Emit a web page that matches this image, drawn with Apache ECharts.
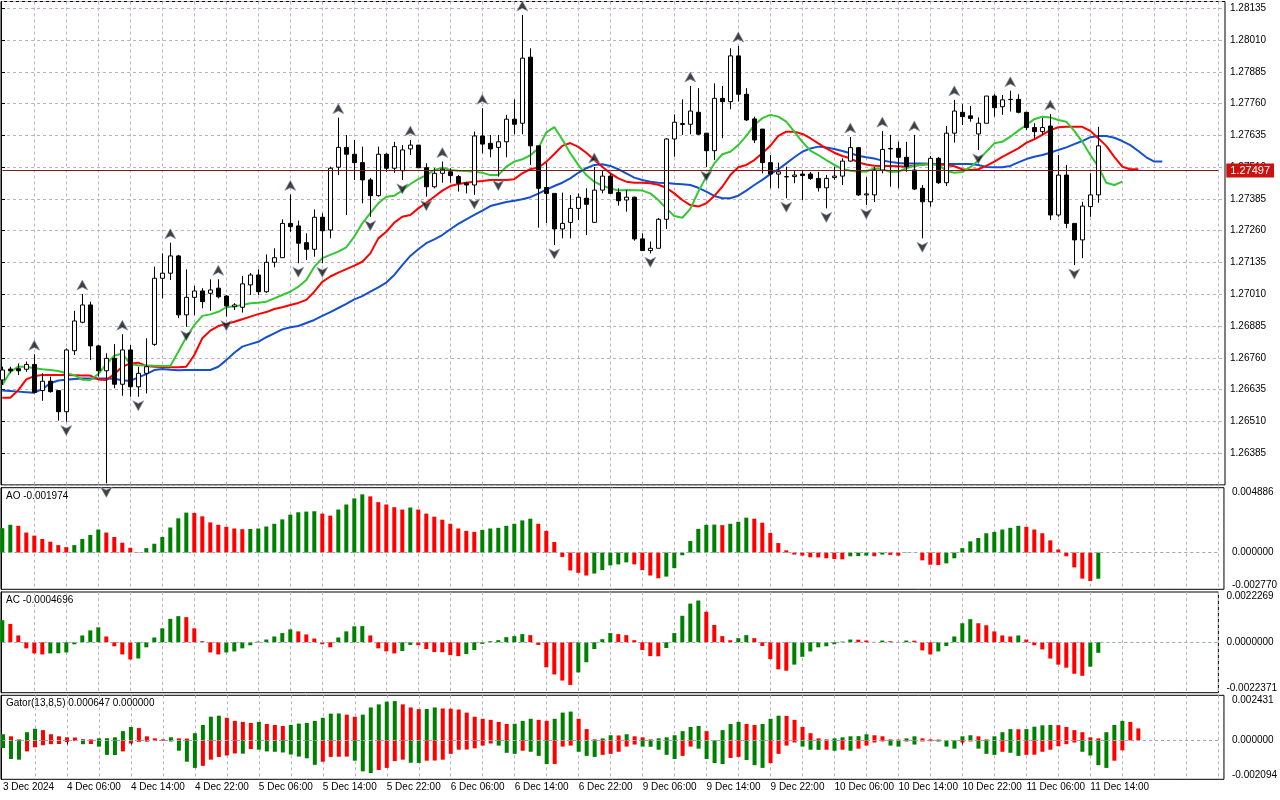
<!DOCTYPE html>
<html>
<head>
<meta charset="utf-8">
<title>GBPUSD H1</title>
<script src="https://cdn.jsdelivr.net/npm/echarts@6/dist/echarts.min.js"></script>
<style>
  html, body { margin: 0; padding: 0; background: #fff; }
  #chart { width: 1280px; height: 800px; }
</style>
</head>
<body>
<div id="chart"></div>
<script>
// hourly sessions shown on the chart (day, first hour, last hour), incl. empty space on the right
var sessions = [
	['3 Dec', 22, 23], ['4 Dec', 0, 23], ['5 Dec', 0, 23], ['6 Dec', 0, 23],
	['9 Dec', 0, 23], ['10 Dec', 0, 23], ['11 Dec', 0, 23], ['12 Dec', 0, 6]
];
// time labels, one every 8 bars
var timeLabels = ['3 Dec 2024', '4 Dec 06:00', '4 Dec 14:00', '4 Dec 22:00', '5 Dec 06:00', '5 Dec 14:00',
	'5 Dec 22:00', '6 Dec 06:00', '6 Dec 14:00', '6 Dec 22:00', '9 Dec 06:00', '9 Dec 14:00', '9 Dec 22:00',
	'10 Dec 06:00', '10 Dec 14:00', '10 Dec 22:00', '11 Dec 06:00', '11 Dec 14:00'];

var opens = [1.26673, 1.26716, 1.26717, 1.26715, 1.26734, 1.26631, 1.26668, 1.26631, 1.26548, 1.26788,
	1.26900, 1.26968, 1.26807, 1.26709, 1.26758, 1.26656, 1.26791, 1.26646, 1.26699, 1.26813,
	1.27073, 1.27093, 1.27161, 1.26929, 1.26998, 1.27023, 1.27014, 1.27034, 1.27003, 1.26961,
	1.26959, 1.27047, 1.27086, 1.27020, 1.27136, 1.27154, 1.27289, 1.27279, 1.27213, 1.27187,
	1.27313, 1.27263, 1.27510, 1.27588, 1.27561, 1.27528, 1.27460, 1.27398, 1.27561, 1.27506,
	1.27496, 1.27582, 1.27597, 1.27508, 1.27433, 1.27486, 1.27492, 1.27473, 1.27448, 1.27440,
	1.27633, 1.27604, 1.27588, 1.27610, 1.27699, 1.27683, 1.27943, 1.27594, 1.27430, 1.27407,
	1.27267, 1.27293, 1.27348, 1.27388, 1.27293, 1.27420, 1.27475, 1.27410, 1.27381, 1.27392,
	1.27228, 1.27182, 1.27191, 1.27305, 1.27621, 1.27678, 1.27679, 1.27726, 1.27644, 1.27575,
	1.27781, 1.27768, 1.27948, 1.27797, 1.27700, 1.27660, 1.27528, 1.27483, 1.27472, 1.27473,
	1.27483, 1.27483, 1.27466, 1.27429, 1.27469, 1.27475, 1.27534, 1.27587, 1.27401, 1.27401,
	1.27499, 1.27582, 1.27584, 1.27549, 1.27499, 1.27427, 1.27374, 1.27545, 1.27449, 1.27644,
	1.27726, 1.27712, 1.27641, 1.27683, 1.27790, 1.27748, 1.27776, 1.27777, 1.27726, 1.27666,
	1.27650, 1.27672, 1.27322, 1.27479, 1.27289, 1.27224, 1.27355, 1.27401];
var highs = [1.26725, 1.26725, 1.26738, 1.26745, 1.26774, 1.26699, 1.26686, 1.26633, 1.26797, 1.26945,
	1.27011, 1.26981, 1.26810, 1.26778, 1.26814, 1.26853, 1.26810, 1.26725, 1.26837, 1.27119,
	1.27171, 1.27213, 1.27165, 1.27108, 1.27043, 1.27034, 1.27069, 1.27069, 1.27007, 1.26975,
	1.27082, 1.27094, 1.27108, 1.27167, 1.27191, 1.27305, 1.27403, 1.27300, 1.27250, 1.27344,
	1.27329, 1.27512, 1.27705, 1.27637, 1.27617, 1.27591, 1.27468, 1.27591, 1.27565, 1.27610,
	1.27597, 1.27617, 1.27597, 1.27525, 1.27506, 1.27532, 1.27506, 1.27479, 1.27453, 1.27650,
	1.27742, 1.27637, 1.27637, 1.27716, 1.27777, 1.28109, 1.27978, 1.27594, 1.27527, 1.27407,
	1.27410, 1.27401, 1.27407, 1.27427, 1.27511, 1.27495, 1.27486, 1.27427, 1.27420, 1.27394,
	1.27250, 1.27217, 1.27310, 1.27624, 1.27718, 1.27777, 1.27830, 1.27821, 1.27644, 1.27840,
	1.27830, 1.27978, 1.27987, 1.27821, 1.27709, 1.27660, 1.27558, 1.27528, 1.27512, 1.27496,
	1.27499, 1.27491, 1.27492, 1.27479, 1.27512, 1.27545, 1.27629, 1.27590, 1.27471, 1.27511,
	1.27652, 1.27637, 1.27610, 1.27610, 1.27637, 1.27440, 1.27554, 1.27550, 1.27672, 1.27775,
	1.27758, 1.27751, 1.27706, 1.27790, 1.27797, 1.27794, 1.27811, 1.27797, 1.27726, 1.27683,
	1.27704, 1.27719, 1.27558, 1.27519, 1.27289, 1.27374, 1.27486, 1.27669];
var lows = [1.26653, 1.26699, 1.26692, 1.26705, 1.26620, 1.26591, 1.26623, 1.26513, 1.26509, 1.26771,
	1.26896, 1.26751, 1.26686, 1.26266, 1.26640, 1.26611, 1.26607, 1.26607, 1.26620, 1.26807,
	1.26994, 1.27066, 1.26916, 1.26882, 1.26928, 1.26955, 1.26945, 1.26994, 1.26922, 1.26948,
	1.26938, 1.27007, 1.27007, 1.27016, 1.27116, 1.27154, 1.27256, 1.27132, 1.27145, 1.27158,
	1.27132, 1.27230, 1.27479, 1.27322, 1.27460, 1.27368, 1.27315, 1.27394, 1.27492, 1.27488,
	1.27460, 1.27558, 1.27506, 1.27394, 1.27427, 1.27449, 1.27449, 1.27414, 1.27407, 1.27401,
	1.27565, 1.27549, 1.27473, 1.27549, 1.27640, 1.27640, 1.27519, 1.27272, 1.27290, 1.27204,
	1.27230, 1.27230, 1.27302, 1.27243, 1.27293, 1.27407, 1.27405, 1.27359, 1.27335, 1.27221,
	1.27182, 1.27171, 1.27191, 1.27267, 1.27551, 1.27637, 1.27640, 1.27637, 1.27510, 1.27538,
	1.27624, 1.27738, 1.27768, 1.27692, 1.27605, 1.27486, 1.27427, 1.27427, 1.27388, 1.27447,
	1.27381, 1.27460, 1.27414, 1.27348, 1.27460, 1.27440, 1.27532, 1.27397, 1.27361, 1.27373,
	1.27486, 1.27433, 1.27427, 1.27492, 1.27420, 1.27230, 1.27355, 1.27444, 1.27436, 1.27607,
	1.27676, 1.27689, 1.27578, 1.27683, 1.27709, 1.27716, 1.27729, 1.27722, 1.27656, 1.27624,
	1.27637, 1.27302, 1.27315, 1.27270, 1.27125, 1.27152, 1.27315, 1.27370];
var closes = [1.26712, 1.26709, 1.26709, 1.26734, 1.26624, 1.26668, 1.26627, 1.26548, 1.26791, 1.26905,
	1.26968, 1.26807, 1.26709, 1.26758, 1.26656, 1.26791, 1.26646, 1.26699, 1.26725, 1.27073,
	1.27093, 1.27161, 1.26929, 1.26998, 1.27023, 1.26981, 1.27027, 1.27000, 1.26964, 1.26968,
	1.27051, 1.27086, 1.27020, 1.27136, 1.27154, 1.27289, 1.27276, 1.27211, 1.27187, 1.27313,
	1.27260, 1.27506, 1.27588, 1.27561, 1.27528, 1.27460, 1.27398, 1.27561, 1.27506, 1.27591,
	1.27578, 1.27597, 1.27508, 1.27433, 1.27486, 1.27502, 1.27477, 1.27447, 1.27440, 1.27633,
	1.27601, 1.27582, 1.27610, 1.27699, 1.27679, 1.27939, 1.27594, 1.27427, 1.27407, 1.27267,
	1.27289, 1.27348, 1.27392, 1.27364, 1.27420, 1.27475, 1.27407, 1.27378, 1.27392, 1.27228,
	1.27182, 1.27191, 1.27305, 1.27621, 1.27687, 1.27682, 1.27731, 1.27640, 1.27575, 1.27781,
	1.27768, 1.27948, 1.27797, 1.27696, 1.27617, 1.27528, 1.27483, 1.27492, 1.27473, 1.27479,
	1.27477, 1.27466, 1.27429, 1.27466, 1.27475, 1.27534, 1.27587, 1.27401, 1.27405, 1.27499,
	1.27580, 1.27584, 1.27549, 1.27512, 1.27424, 1.27374, 1.27545, 1.27449, 1.27644, 1.27731,
	1.27709, 1.27702, 1.27683, 1.27790, 1.27744, 1.27775, 1.27777, 1.27726, 1.27666, 1.27650,
	1.27666, 1.27322, 1.27479, 1.27289, 1.27224, 1.27357, 1.27401, 1.27594];
var priceNow = 1.27497;

// Alligator (already shifted forward as drawn)
var jaw = [1.26631, 1.26629, 1.26627, 1.26625, 1.26623, 1.26637, 1.26660, 1.26671, 1.26674, 1.26677,
	1.26679, 1.26679, 1.26679, 1.26679, 1.26678, 1.26672, 1.26669, 1.26683, 1.26696, 1.26712,
	1.26716, 1.26713, 1.26711, 1.26712, 1.26712, 1.26712, 1.26712, 1.26725, 1.26751, 1.26780,
	1.26804, 1.26814, 1.26823, 1.26841, 1.26856, 1.26872, 1.26880, 1.26885, 1.26897, 1.26909,
	1.26925, 1.26940, 1.26956, 1.26972, 1.26990, 1.27003, 1.27020, 1.27037, 1.27056, 1.27086,
	1.27125, 1.27161, 1.27187, 1.27211, 1.27226, 1.27243, 1.27266, 1.27287, 1.27305, 1.27322,
	1.27339, 1.27357, 1.27365, 1.27373, 1.27378, 1.27384, 1.27392, 1.27406, 1.27422, 1.27436,
	1.27449, 1.27466, 1.27488, 1.27506, 1.27519, 1.27522, 1.27515, 1.27502, 1.27486, 1.27469,
	1.27460, 1.27453, 1.27449, 1.27448, 1.27445, 1.27443, 1.27440, 1.27429, 1.27414, 1.27397,
	1.27388, 1.27388, 1.27398, 1.27418, 1.27440, 1.27460, 1.27483, 1.27502, 1.27525, 1.27549,
	1.27571, 1.27584, 1.27591, 1.27588, 1.27582, 1.27574, 1.27565, 1.27555, 1.27549, 1.27544,
	1.27536, 1.27531, 1.27527, 1.27525, 1.27525, 1.27525, 1.27524, 1.27523, 1.27523, 1.27523,
	1.27523, 1.27523, 1.27519, 1.27511, 1.27510, 1.27510, 1.27515, 1.27529, 1.27542, 1.27551,
	1.27558, 1.27567, 1.27578, 1.27588, 1.27601, 1.27613, 1.27628, 1.27633, 1.27633, 1.27626,
	1.27613, 1.27597, 1.27574, 1.27549, 1.27532, 1.27532];
var teeth = [1.26603, 1.26603, 1.26633, 1.26675, 1.26688, 1.26692, 1.26692, 1.26692, 1.26692, 1.26691,
	1.26690, 1.26690, 1.26675, 1.26673, 1.26696, 1.26725, 1.26738, 1.26741, 1.26728, 1.26725,
	1.26724, 1.26723, 1.26723, 1.26725, 1.26771, 1.26837, 1.26867, 1.26885, 1.26893, 1.26902,
	1.26912, 1.26922, 1.26932, 1.26940, 1.26952, 1.26959, 1.26968, 1.26976, 1.26988, 1.27020,
	1.27059, 1.27080, 1.27095, 1.27109, 1.27123, 1.27138, 1.27171, 1.27230, 1.27256, 1.27292,
	1.27315, 1.27322, 1.27348, 1.27370, 1.27394, 1.27418, 1.27436, 1.27444, 1.27449, 1.27453,
	1.27456, 1.27460, 1.27460, 1.27460, 1.27463, 1.27486, 1.27502, 1.27509, 1.27531, 1.27562,
	1.27594, 1.27605, 1.27590, 1.27567, 1.27538, 1.27512, 1.27486, 1.27466, 1.27453, 1.27449,
	1.27449, 1.27447, 1.27441, 1.27429, 1.27407, 1.27381, 1.27361, 1.27355, 1.27368, 1.27397,
	1.27433, 1.27479, 1.27510, 1.27519, 1.27538, 1.27565, 1.27594, 1.27633, 1.27650, 1.27650,
	1.27641, 1.27624, 1.27604, 1.27584, 1.27567, 1.27554, 1.27545, 1.27529, 1.27521, 1.27516,
	1.27515, 1.27515, 1.27514, 1.27512, 1.27516, 1.27520, 1.27523, 1.27521, 1.27519, 1.27514,
	1.27502, 1.27499, 1.27502, 1.27515, 1.27532, 1.27551, 1.27567, 1.27584, 1.27606, 1.27620,
	1.27637, 1.27656, 1.27667, 1.27669, 1.27669, 1.27669, 1.27653, 1.27624, 1.27594, 1.27551,
	1.27512, 1.27502, 1.27502];
var lips = [1.26653, 1.26705, 1.26725, 1.26725, 1.26719, 1.26715, 1.26712, 1.26708, 1.26699, 1.26692,
	1.26674, 1.26673, 1.26696, 1.26735, 1.26768, 1.26777, 1.26735, 1.26731, 1.26730, 1.26729,
	1.26728, 1.26728, 1.26784, 1.26841, 1.26889, 1.26925, 1.26931, 1.26941, 1.26959, 1.26963,
	1.26968, 1.26975, 1.26977, 1.26981, 1.26994, 1.27007, 1.27020, 1.27040, 1.27066, 1.27118,
	1.27152, 1.27165, 1.27178, 1.27195, 1.27237, 1.27289, 1.27329, 1.27368, 1.27394, 1.27398,
	1.27418, 1.27444, 1.27463, 1.27479, 1.27499, 1.27508, 1.27499, 1.27496, 1.27495, 1.27492,
	1.27488, 1.27479, 1.27479, 1.27512, 1.27532, 1.27541, 1.27557, 1.27584, 1.27647, 1.27668,
	1.27619, 1.27565, 1.27519, 1.27479, 1.27453, 1.27437, 1.27427, 1.27418, 1.27420, 1.27419,
	1.27418, 1.27407, 1.27381, 1.27348, 1.27318, 1.27311, 1.27346, 1.27414, 1.27473, 1.27525,
	1.27561, 1.27571, 1.27597, 1.27633, 1.27676, 1.27703, 1.27716, 1.27709, 1.27689, 1.27650,
	1.27610, 1.27575, 1.27558, 1.27538, 1.27519, 1.27503, 1.27496, 1.27492, 1.27493, 1.27506,
	1.27502, 1.27492, 1.27492, 1.27506, 1.27516, 1.27521, 1.27523, 1.27519, 1.27496, 1.27488,
	1.27491, 1.27510, 1.27536, 1.27571, 1.27604, 1.27610, 1.27630, 1.27654, 1.27676, 1.27699,
	1.27709, 1.27706, 1.27696, 1.27689, 1.27653, 1.27610, 1.27558, 1.27512, 1.27449, 1.27440,
	1.27453];

// bar indexes carrying a fractal
var upFractals = [4, 10, 15, 21, 27, 36, 42, 51, 55, 60, 65, 74, 86, 92, 106, 110, 114, 119, 126, 131];
var downFractals = [8, 13, 17, 23, 28, 37, 40, 46, 50, 53, 59, 62, 69, 81, 88, 98, 103, 108, 115, 122, 134];

var ao = [0.001836, 0.002091, 0.002015, 0.001505, 0.001275, 0.001020, 0.000816, 0.000561, 0.000408, 0.000561,
	0.001020, 0.001326, 0.001734, 0.001505, 0.001173, 0.000740, 0.000357, 0.000026, 0.000332, 0.000663,
	0.001173, 0.001887, 0.002576, 0.003009, 0.002984, 0.002729, 0.002270, 0.002091, 0.001938, 0.001811,
	0.001760, 0.001772, 0.001811, 0.001964, 0.002168, 0.002499, 0.002856, 0.003035, 0.003086, 0.003111,
	0.002933, 0.002780, 0.003239, 0.003621, 0.004080, 0.004386, 0.004233, 0.003800, 0.003621, 0.003417,
	0.003239, 0.003392, 0.003239, 0.002933, 0.002703, 0.002474, 0.002168, 0.001811, 0.001632, 0.001556,
	0.001709, 0.001811, 0.001862, 0.002015, 0.002168, 0.002423, 0.002550, 0.002168, 0.001632, 0.000791,
	-0.000332, -0.001352, -0.001530, -0.001734, -0.001581, -0.001326, -0.000969, -0.000893, -0.000740, -0.000893,
	-0.001326, -0.001734, -0.001938, -0.001811, -0.001173, -0.000204, 0.000867, 0.001785, 0.002091, 0.002104,
	0.002066, 0.002168, 0.002321, 0.002627, 0.002550, 0.002244, 0.001479, 0.000714, 0.000166, -0.000153,
	-0.000230, -0.000357, -0.000370, -0.000434, -0.000485, -0.000510, -0.000281, -0.000268, -0.000230, -0.000281,
	-0.000153, -0.000179, -0.000230, -0.000026, -0.000013, -0.000587, -0.000918, -0.000944, -0.000816, -0.000434,
	0.000332, 0.000842, 0.001097, 0.001454, 0.001556, 0.001734, 0.001862, 0.002015, 0.001938, 0.001734,
	0.001454, 0.000918, 0.000230, -0.000281, -0.001122, -0.001964, -0.002142, -0.001974];
var ac = [0.000977, 0.000812, 0.000301, -0.000271, -0.000496, -0.000541, -0.000496, -0.000489, -0.000451, -0.000090,
	0.000301, 0.000526, 0.000661, 0.000256, -0.000180, -0.000541, -0.000767, -0.000721, -0.000225, 0.000210,
	0.000616, 0.001037, 0.001157, 0.001112, 0.000616, 0.000045, -0.000451, -0.000541, -0.000451, -0.000406,
	-0.000271, -0.000135, 0.000030, 0.000120, 0.000256, 0.000406, 0.000571, 0.000481, 0.000346, 0.000165,
	-0.000090, -0.000225, 0.000210, 0.000481, 0.000706, 0.000714, 0.000301, -0.000271, -0.000406, -0.000496,
	-0.000391, -0.000120, -0.000135, -0.000301, -0.000436, -0.000443, -0.000571, -0.000616, -0.000526, -0.000346,
	-0.000075, 0.000045, 0.000090, 0.000225, 0.000271, 0.000361, 0.000316, -0.000120, -0.001112, -0.001428,
	-0.001698, -0.001894, -0.001338, -0.000887, -0.000301, 0.000135, 0.000406, 0.000361, 0.000316, 0.000090,
	-0.000346, -0.000616, -0.000624, -0.000256, 0.000406, 0.001172, 0.001713, 0.001849, 0.001353, 0.000767,
	0.000271, 0.000090, 0.000180, 0.000316, 0.000180, -0.000165, -0.000752, -0.001202, -0.001263, -0.000992,
	-0.000646, -0.000406, -0.000225, -0.000180, -0.000090, 0.000030, 0.000120, 0.000113, 0.000075, 0.000015,
	0.000075, 0.000045, 0.000015, 0.000075, 0.000068, -0.000361, -0.000541, -0.000406, -0.000165, 0.000256,
	0.000842, 0.001022, 0.000842, 0.000752, 0.000481, 0.000301, 0.000256, 0.000301, 0.000120, -0.000135,
	-0.000316, -0.000722, -0.000992, -0.001127, -0.001398, -0.001488, -0.001082, -0.0004696];
var gatorUp = [0.000333, 0.000222, 0.000056, 0.000444, 0.000629, 0.000555, 0.000333, 0.000222, 0.000167, 0.000157,
	0.000065, 0.000056, 0.000111, 0.000120, 0.000167, 0.000500, 0.000722, 0.000666, 0.000222, 0.000111,
	0.000056, 0.000167, 0.000111, 0.000102, 0.000389, 0.000833, 0.001277, 0.001332, 0.001221, 0.001055,
	0.000999, 0.000944, 0.000999, 0.000888, 0.000833, 0.000777, 0.000833, 0.000907, 0.000944, 0.001055,
	0.001221, 0.001443, 0.001452, 0.001388, 0.001277, 0.001388, 0.001776, 0.001943, 0.002091, 0.002118,
	0.001943, 0.001776, 0.001684, 0.001693, 0.001776, 0.001721, 0.001711, 0.001665, 0.001499, 0.001277,
	0.001166, 0.001110, 0.000999, 0.000888, 0.000897, 0.001055, 0.001166, 0.001110, 0.001055, 0.001166,
	0.001499, 0.001554, 0.001166, 0.000611, 0.000056, 0.000111, 0.000278, 0.000268, 0.000333, 0.000222,
	0.000167, 0.000056, 0.000111, 0.000167, 0.000278, 0.000500, 0.000722, 0.000777, 0.000500, 0.000009,
	0.000555, 0.000888, 0.000999, 0.000888, 0.000833, 0.000888, 0.001166, 0.001332, 0.001323, 0.001110,
	0.000722, 0.000389, 0.000111, 0.000056, 0.000111, 0.000167, 0.000222, 0.000231, 0.000333, 0.000278,
	0.000222, 0.000056, 0.000046, 0.000111, 0.000222, 0.000111, 0.000056, 0.000046, 0.000009, 0.000006,
	0.000222, 0.000278, 0.000222, 0.000056, 0.000222, 0.000444, 0.000611, 0.000601, 0.000611, 0.000740,
	0.000814, 0.000833, 0.000823, 0.000722, 0.000555, 0.000444, 0.000167, 0.000111, 0.000444, 0.000833,
	0.001055, 0.000999, 0.000647];
var gatorDown = [-0.000407, -0.000999, -0.001036, -0.000592, -0.000370, -0.000259, -0.000204, -0.000194, -0.000093, -0.000037,
	-0.000204, -0.000194, -0.000333, -0.000777, -0.000786, -0.000592, -0.000167, -0.000074, -0.000065, -0.000037,
	-0.000028, -0.000056, -0.000555, -0.001147, -0.001480, -0.001369, -0.001036, -0.000888, -0.000814, -0.000703,
	-0.000712, -0.000463, -0.000500, -0.000592, -0.000611, -0.000648, -0.000759, -0.000870, -0.000962, -0.001314,
	-0.001147, -0.000888, -0.000879, -0.000870, -0.001092, -0.001665, -0.001758, -0.001591, -0.001480, -0.001110,
	-0.001036, -0.001203, -0.001212, -0.001092, -0.001082, -0.001036, -0.000722, -0.000500, -0.000490, -0.000426,
	-0.000278, -0.000167, -0.000278, -0.000666, -0.000722, -0.000555, -0.000611, -0.000833, -0.001277, -0.001267,
	-0.000333, -0.000278, -0.000611, -0.000833, -0.000888, -0.000777, -0.000722, -0.000611, -0.000333, -0.000222,
	-0.000333, -0.000342, -0.000500, -0.000777, -0.000999, -0.000833, -0.000333, -0.000444, -0.000999, -0.001221,
	-0.001277, -0.000944, -0.000888, -0.001055, -0.001332, -0.001480, -0.001221, -0.000722, -0.000278, -0.000111,
	-0.000333, -0.000500, -0.000509, -0.000500, -0.000555, -0.000500, -0.000555, -0.000444, -0.000278, -0.000111,
	-0.000056, -0.000278, -0.000333, -0.000056, -0.000222, -0.000056, -0.000046, -0.000056, -0.000333, -0.000444,
	-0.000111, -0.000056, -0.000444, -0.000722, -0.000777, -0.000611, -0.000666, -0.000833, -0.000777, -0.000768,
	-0.000611, -0.000500, -0.000315, -0.000204, -0.000111, -0.000611, -0.000814, -0.001332, -0.001480, -0.001092,
	-0.000537, 0, 0];

// panel value ranges (as printed on the right scale)
var priceRange = [1.26260, 1.28162];
var aoRange = [-0.002770, 0.004886];
var acRange = [-0.0022371, 0.0022269];
var gatorRange = [-0.002094, 0.002431];

var GREEN = '#008000', RED = '#ff0000', GRID_COLOR = '#bfb0bf';
var FONT = 'Liberation Sans';

var categories = [];
sessions.forEach(function (s) {
	for (var h = s[1]; h <= s[2]; h++) {
		categories.push(s[0] + ' ' + (h < 10 ? '0' : '') + h + ':00');
	}
});

// MT style colouring: green when the bar grew against the previous one
function colorBars(values, useAbs) {
	return values.map(function (v, i) {
		var cur = useAbs ? Math.abs(v) : v;
		var prev = i === 0 ? -Infinity : (useAbs ? Math.abs(values[i - 1]) : values[i - 1]);
		return { value: v, itemStyle: { color: cur >= prev ? GREEN : RED } };
	});
}

var panels = [
	{ top: 1.5, height: 483.4, range: priceRange },
	{ top: 487.7, height: 101.6, range: aoRange, digits: 6 },
	{ top: 592, height: 100.7, range: acRange, digits: 7 },
	{ top: 695.3, height: 84, range: gatorRange, digits: 6 }
];

var grids = [], xAxes = [], yAxes = [];
// background grids: frame, horizontal grid, right price scale
panels.forEach(function (p, i) {
	grids.push({ left: 1, width: 1224, top: p.top, height: p.height, show: true,
		borderColor: '#000', borderWidth: 1, backgroundColor: 'transparent' });
	xAxes.push({ type: 'value', gridIndex: i, min: 0, max: 1, show: false });
	var y = { type: 'value', gridIndex: i, position: 'right', min: p.range[0], max: p.range[1],
		axisLine: { show: true, lineStyle: { color: '#000' } },
		axisTick: { show: i === 0, length: 4, lineStyle: { color: '#000' } },
		axisLabel: { color: '#000', fontSize: 10, fontFamily: FONT, margin: 5 },
		splitLine: { show: false } };
	if (i === 0) {
		y.interval = 0.00125;
		y.axisLabel.showMinLabel = false;
		y.axisLabel.showMaxLabel = false;
		y.axisLabel.formatter = function (v) { return v.toFixed(5); };
		y.splitLine = { show: true, lineStyle: { color: GRID_COLOR, type: [3, 3] } };
	} else {
		var span = p.range[1] - p.range[0];
		var nudge = span * 4.5 / p.height;
		var digits = p.digits, lo = p.range[0], hi = p.range[1];
		y.axisLabel.margin = 8;
		y.axisLabel.customValues = [hi - nudge, 0, lo + nudge];
		y.axisLabel.formatter = function (v) {
			if (v > 0) return hi.toFixed(digits);
			if (v < 0) return lo.toFixed(digits);
			return (0).toFixed(digits);
		};
	}
	yAxes.push(y);
});
// data grids: bars centred on the category ticks
panels.forEach(function (p, i) {
	var last = i === panels.length - 1;
	grids.push({ left: 2.3, width: 1216, top: p.top, height: p.height, show: false });
	xAxes.push({
		type: 'category', gridIndex: 4 + i, data: categories, boundaryGap: false,
		axisLine: { show: false },
		axisTick: { show: last, length: 4, lineStyle: { color: '#000' },
			interval: function (idx) { return idx % 8 === 0 && idx < 138; } },
		axisLabel: { show: last, align: 'left', margin: 3, color: '#000', fontSize: 10, fontFamily: FONT,
			interval: function (idx) { return idx % 8 === 0 && idx < 138; },
			formatter: function (v, idx) { return timeLabels[idx / 8] || ''; } },
		splitLine: { show: true, interval: function (idx) { return idx > 0 && idx % 4 === 0; },
			lineStyle: { color: GRID_COLOR, type: [3, 3] } }
	});
	yAxes.push({ type: 'value', gridIndex: 4 + i, min: p.range[0], max: p.range[1], show: false,
		splitLine: { show: false } });
});

var candles = opens.map(function (o, i) { return [o, closes[i], lows[i], highs[i]]; });
var zeroLine = { silent: true, symbol: 'none', label: { show: false },
	lineStyle: { color: '#9aa6b8', type: [3, 3], width: 1 }, data: [{ yAxis: 0 }] };
var bidLine = {
	silent: true, symbol: 'none', precision: 5,
	lineStyle: { color: '#7a1c1c', type: 'solid', width: 1 },
	label: { show: true, position: 'end', distance: 8, formatter: priceNow.toFixed(5),
		color: '#fff', backgroundColor: '#cc1111', padding: [2, 4, 1, 4], fontSize: 11, fontFamily: FONT },
	data: [{ yAxis: priceNow }]
};

function alligatorLine(name, values, color) {
	return { name: name, type: 'line', xAxisIndex: 4, yAxisIndex: 4, data: values, symbol: 'none',
		lineStyle: { color: color, width: 2 }, z: 3 };
}

function fractalSeries(list, up) {
	return {
		type: 'scatter', xAxisIndex: 4, yAxisIndex: 4, z: 5,
		data: list.map(function (k) { return [k, up ? highs[k] : lows[k]]; }),
		symbol: up ? 'path://M5,0L10,11L5,8L0,11Z' : 'path://M0,0L5,3L10,0L5,11Z',
		symbolSize: [11, 10], symbolOffset: [0, up ? -9 : 9],
		itemStyle: { color: '#111', borderColor: '#8a9ab0', borderWidth: 0.8 }
	};
}

var jawSeries = alligatorLine('Jaw', jaw, '#1450d2');
jawSeries.markLine = bidLine;

var titleStyle = { fontSize: 10, fontWeight: 'normal', color: '#000', fontFamily: FONT };
var option = {
	animation: false,
	backgroundColor: '#fff',
	textStyle: { fontFamily: FONT },
	title: [
		{ text: 'AO ' + ao[ao.length - 1].toFixed(6), left: 6, top: 491, padding: 0, textStyle: titleStyle },
		{ text: 'AC ' + ac[ac.length - 1].toFixed(7), left: 6, top: 595, padding: 0, textStyle: titleStyle },
		{ text: 'Gator(13,8,5) ' + gatorUp[gatorUp.length - 1].toFixed(6) + ' ' +
			Math.abs(gatorDown[gatorDown.length - 1]).toFixed(6), left: 6, top: 698, padding: 0, textStyle: titleStyle }
	],
	grid: grids,
	xAxis: xAxes,
	yAxis: yAxes,
	series: [
		{
			type: 'candlestick', xAxisIndex: 4, yAxisIndex: 4, data: candles, barWidth: 5, clip: false, z: 4,
			itemStyle: { color: '#ffffff', color0: '#000000', borderColor: '#000000', borderColor0: '#000000', borderWidth: 1 }
		},
		jawSeries,
		alligatorLine('Teeth', teeth, '#ff0000'),
		alligatorLine('Lips', lips, '#32c832'),
		fractalSeries(upFractals, true),
		fractalSeries(downFractals, false),
		{ type: 'bar', xAxisIndex: 5, yAxisIndex: 5, data: colorBars(ao, false), barWidth: 4, markLine: zeroLine },
		{ type: 'bar', xAxisIndex: 6, yAxisIndex: 6, data: colorBars(ac, false), barWidth: 4, markLine: zeroLine },
		{ type: 'bar', xAxisIndex: 7, yAxisIndex: 7, data: colorBars(gatorUp, true), barWidth: 4, markLine: zeroLine },
		{ type: 'bar', xAxisIndex: 7, yAxisIndex: 7, data: colorBars(gatorDown, true), barWidth: 4, barGap: '-100%' }
	]
};

var myChart = echarts.init(document.getElementById('chart'));
myChart.setOption(option);
</script>
</body>
</html>
